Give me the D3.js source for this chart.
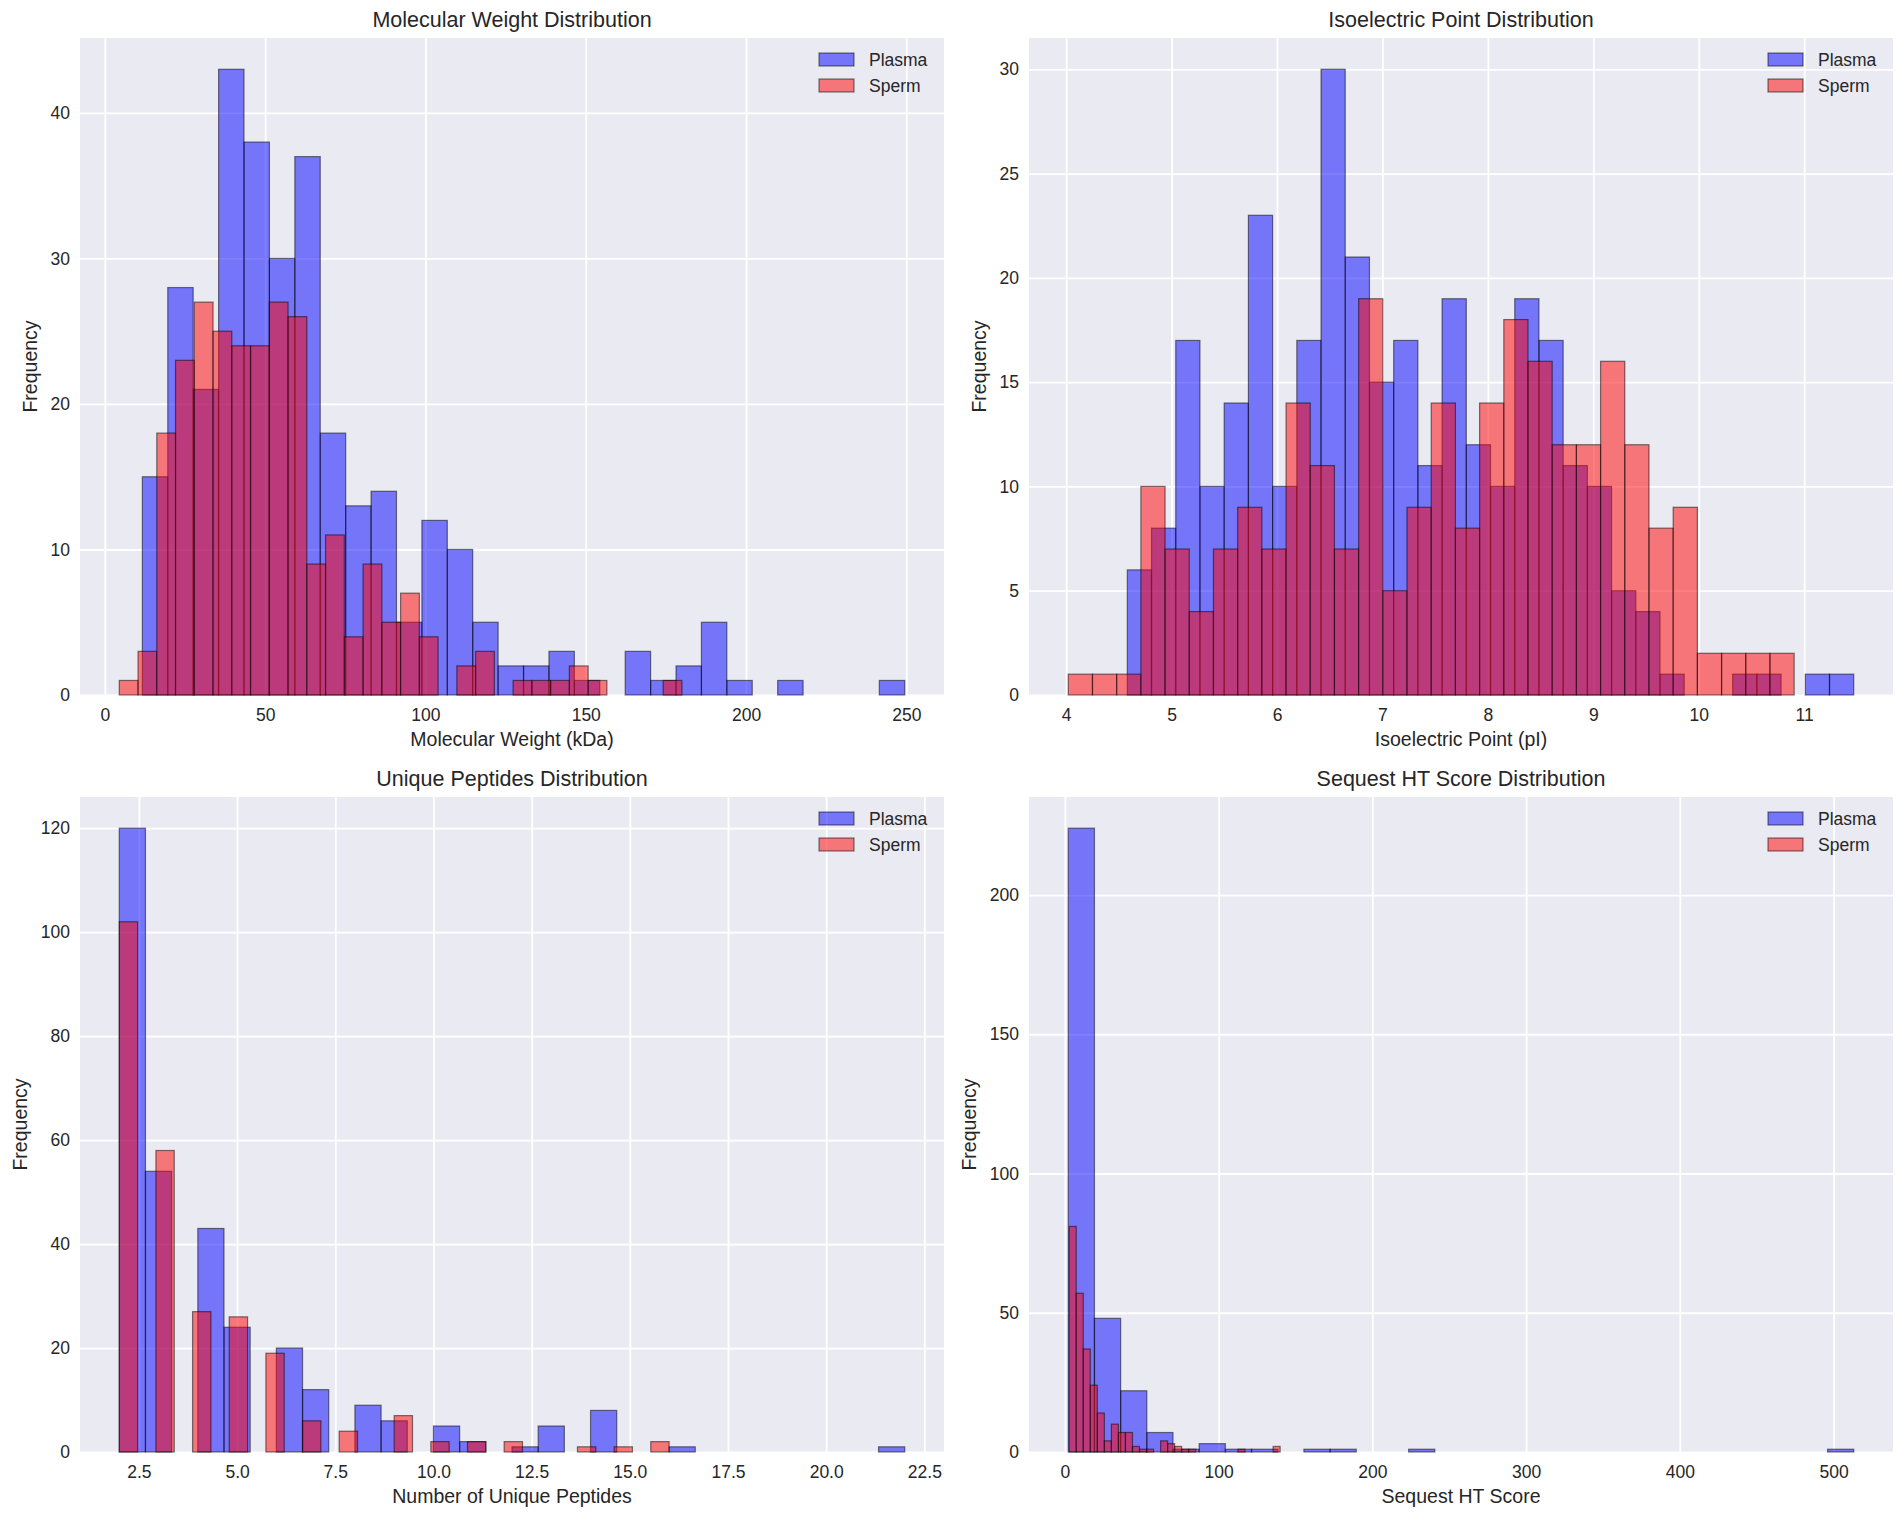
<!DOCTYPE html>
<html>
<head>
<meta charset="utf-8">
<script src="https://cdn.jsdelivr.net/npm/d3@7/dist/d3.min.js"></script>
<style>
  body { margin: 0; background: #ffffff; }
  text { font-family: "Liberation Sans", Arial, sans-serif; fill: #262626; }
</style>
</head>
<body>
<div id="chart"></div>
<script>
// every histogram has 30 equal bins between [min, max] of its series
var mwPlasmaRange = [11.7, 249.5];
var mwPlasmaCounts = [15, 28, 21, 43, 38, 30, 37, 18, 13, 14, 5, 12, 10, 5, 2, 2, 3, 1, 0, 3, 1, 2, 5, 1, 0, 1, 0, 0, 0, 1];
var mwSpermRange = [4.5, 180.0];
var mwSpermCounts = [1, 3, 18, 23, 27, 25, 24, 24, 27, 26, 9, 11, 4, 9, 5, 7, 4, 0, 2, 3, 0, 1, 1, 1, 2, 1, 0, 0, 0, 1];

var piPlasmaRange = [4.58, 11.47];
var piPlasmaCounts = [6, 8, 17, 10, 14, 23, 10, 17, 30, 21, 15, 17, 11, 19, 12, 10, 19, 17, 11, 10, 5, 4, 1, 0, 0, 1, 1, 0, 1, 1];
var piSpermRange = [4.02, 10.905];
var piSpermCounts = [1, 1, 1, 10, 7, 4, 7, 9, 7, 14, 11, 7, 19, 5, 9, 14, 8, 14, 18, 16, 12, 12, 16, 12, 8, 9, 2, 2, 2, 2];

var pepPlasmaRange = [2, 22];
var pepPlasmaCounts = [120, 54, 0, 43, 24, 0, 20, 12, 0, 9, 6, 0, 5, 2, 0, 1, 5, 0, 8, 0, 0, 1, 0, 0, 0, 0, 0, 0, 0, 1];
var pepSpermRange = [2, 16];
var pepSpermCounts = [102, 0, 58, 0, 27, 0, 26, 0, 19, 0, 6, 0, 4, 0, 0, 7, 0, 2, 0, 2, 0, 2, 0, 0, 0, 1, 0, 1, 0, 2];

var scPlasmaRange = [2.2, 513.1];
var scPlasmaCounts = [224, 48, 22, 7, 1, 3, 1, 1, 0, 1, 1, 0, 0, 1, 0, 0, 0, 0, 0, 0, 0, 0, 0, 0, 0, 0, 0, 0, 0, 1];
var scSpermRange = [2.8, 140.0];
var scSpermCounts = [81, 57, 37, 24, 14, 4, 10, 7, 7, 2, 1, 1, 0, 4, 3, 2, 1, 1, 0, 0, 0, 0, 0, 0, 1, 0, 0, 0, 0, 2];

var mwXTicks = [0, 50, 100, 150, 200, 250];
var mwYTicks = [0, 10, 20, 30, 40];
var piXTicks = [4, 5, 6, 7, 8, 9, 10, 11];
var piYTicks = [0, 5, 10, 15, 20, 25, 30];
var pepXTicks = [2.5, 5.0, 7.5, 10.0, 12.5, 15.0, 17.5, 20.0, 22.5];
var pepYTicks = [0, 20, 40, 60, 80, 100, 120];
var scXTicks = [0, 100, 200, 300, 400, 500];
var scYTicks = [0, 50, 100, 150, 200];

var seriesNames = ["Plasma", "Sperm"];
var seriesColors = ["#0000ff", "#ff0000"];

var W = 1902, H = 1517;
var plotW = 864;
var colX = [80, 1029];
var rowY = [38, 797];
var rowH = [657, 655];

var svg = d3.select('#chart')
  .append('svg')
  .attr('width', W)
  .attr('height', H);

function makeBins(range, counts) {
  var w = (range[1] - range[0]) / counts.length;
  return counts.map(function (c, i) {
    return {x0: range[0] + i * w, x1: range[0] + (i + 1) * w, n: c};
  });
}

function drawPanel(p) {
  var plotH = p.height;
  var g = svg.append('g').attr('transform', 'translate(' + p.left + ',' + p.top + ')');
  var series = [makeBins(p.plasma[0], p.plasma[1]), makeBins(p.sperm[0], p.sperm[1])];

  // matplotlib style 5% x margin, y from 0 with 5% headroom
  var lo = Math.min(p.plasma[0][0], p.sperm[0][0]);
  var hi = Math.max(p.plasma[0][1], p.sperm[0][1]);
  var pad = (hi - lo) * 0.05;
  var yMax = d3.max(p.plasma[1].concat(p.sperm[1])) * 1.05;

  var x = d3.scaleLinear().domain([lo - pad, hi + pad]).range([0, plotW]);
  var y = d3.scaleLinear().domain([0, yMax]).range([plotH, 0]);

  g.append('rect')
    .attr('width', plotW)
    .attr('height', plotH)
    .attr('fill', '#eaeaf2');

  // grid
  var gx = g.append('g')
    .attr('transform', 'translate(0,' + plotH + ')')
    .call(d3.axisBottom(x).tickValues(p.xTicks).tickSize(-plotH).tickFormat(''));
  var gy = g.append('g')
    .call(d3.axisLeft(y).tickValues(p.yTicks).tickSize(-plotW).tickFormat(''));
  [gx, gy].forEach(function (a) {
    a.select('.domain').remove();
    a.selectAll('line').attr('stroke', '#ffffff').attr('stroke-width', 1.8);
  });

  series.forEach(function (bins, s) {
    g.append('g')
      .selectAll('rect')
      .data(bins.filter(function (d) { return d.n > 0; }))
      .join('rect')
      .attr('x', function (d) { return x(d.x0); })
      .attr('y', function (d) { return y(d.n); })
      .attr('width', function (d) { return x(d.x1) - x(d.x0); })
      .attr('height', function (d) { return plotH - y(d.n); })
      .attr('fill', seriesColors[s])
      .attr('fill-opacity', 0.5)
      .attr('stroke', '#000000')
      .attr('stroke-opacity', 0.5)
      .attr('stroke-width', 1.2);
  });

  // tick labels
  var ax = g.append('g')
    .attr('transform', 'translate(0,' + plotH + ')')
    .call(d3.axisBottom(x).tickValues(p.xTicks).tickSize(0).tickPadding(14).tickFormat(p.xFmt));
  var ay = g.append('g')
    .call(d3.axisLeft(y).tickValues(p.yTicks).tickSize(0).tickPadding(10).tickFormat(d3.format('d')));
  [ax, ay].forEach(function (a) {
    a.select('.domain').remove();
    a.selectAll('text')
      .attr('font-size', '17.5px')
      .attr('font-family', '"Liberation Sans", Arial, sans-serif')
      .attr('fill', '#262626');
  });

  var maxW = 0;
  ay.selectAll('text').each(function () {
    maxW = Math.max(maxW, this.getComputedTextLength());
  });

  g.append('text')
    .attr('x', plotW / 2)
    .attr('y', -11)
    .attr('text-anchor', 'middle')
    .attr('font-size', '21.5px')
    .text(p.title);

  g.append('text')
    .attr('x', plotW / 2)
    .attr('y', plotH + 51)
    .attr('text-anchor', 'middle')
    .attr('font-size', '19.5px')
    .text(p.xlabel);

  g.append('text')
    .attr('transform', 'translate(' + (-10 - maxW - 21) + ',' + (plotH / 2) + ') rotate(-90)')
    .attr('text-anchor', 'middle')
    .attr('dominant-baseline', 'central')
    .attr('font-size', '19.5px')
    .text('Frequency');

  // legend, upper right
  var lg = g.append('g').attr('transform', 'translate(' + (plotW - 125) + ',15)');
  seriesNames.forEach(function (name, i) {
    lg.append('rect')
      .attr('x', 0)
      .attr('y', i * 26)
      .attr('width', 35)
      .attr('height', 13)
      .attr('fill', seriesColors[i])
      .attr('fill-opacity', 0.5)
      .attr('stroke', '#000000')
      .attr('stroke-opacity', 0.5)
      .attr('stroke-width', 1.2);
    lg.append('text')
      .attr('x', 50)
      .attr('y', i * 26 + 7)
      .attr('dominant-baseline', 'central')
      .attr('font-size', '17.5px')
      .text(name);
  });
}

var intFmt = d3.format('d');
var oneDec = d3.format('.1f');

drawPanel({left: colX[0], top: rowY[0], height: rowH[0], title: 'Molecular Weight Distribution', xlabel: 'Molecular Weight (kDa)',
  plasma: [mwPlasmaRange, mwPlasmaCounts], sperm: [mwSpermRange, mwSpermCounts],
  xTicks: mwXTicks, yTicks: mwYTicks, xFmt: intFmt});
drawPanel({left: colX[1], top: rowY[0], height: rowH[0], title: 'Isoelectric Point Distribution', xlabel: 'Isoelectric Point (pI)',
  plasma: [piPlasmaRange, piPlasmaCounts], sperm: [piSpermRange, piSpermCounts],
  xTicks: piXTicks, yTicks: piYTicks, xFmt: intFmt});
drawPanel({left: colX[0], top: rowY[1], height: rowH[1], title: 'Unique Peptides Distribution', xlabel: 'Number of Unique Peptides',
  plasma: [pepPlasmaRange, pepPlasmaCounts], sperm: [pepSpermRange, pepSpermCounts],
  xTicks: pepXTicks, yTicks: pepYTicks, xFmt: oneDec});
drawPanel({left: colX[1], top: rowY[1], height: rowH[1], title: 'Sequest HT Score Distribution', xlabel: 'Sequest HT Score',
  plasma: [scPlasmaRange, scPlasmaCounts], sperm: [scSpermRange, scSpermCounts],
  xTicks: scXTicks, yTicks: scYTicks, xFmt: intFmt});
</script>
</body>
</html>
